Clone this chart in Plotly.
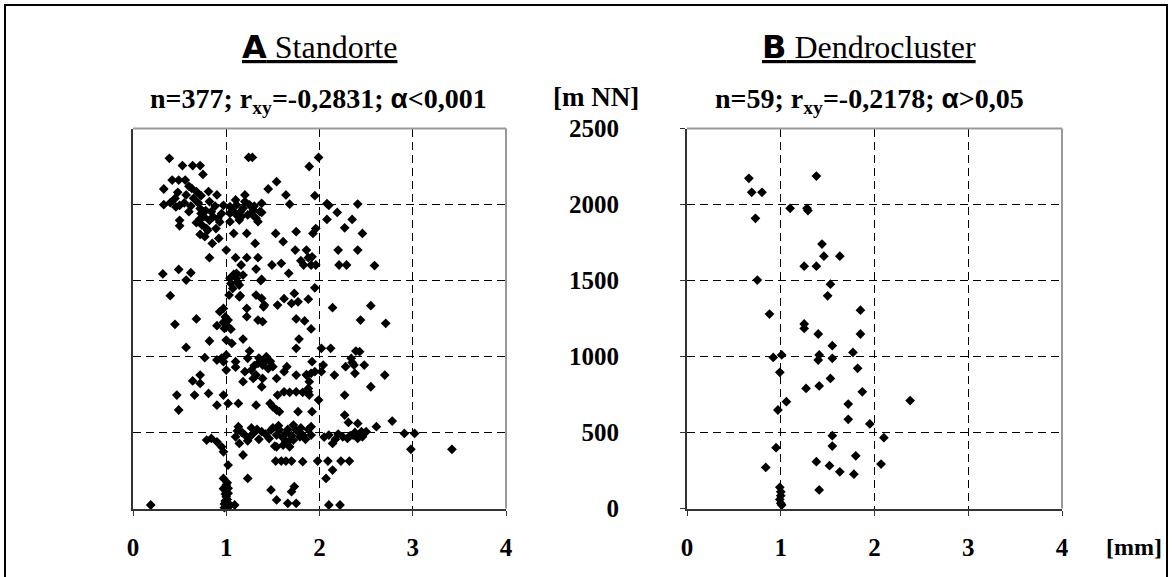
import plotly.graph_objects as go

# Panel A: all sites (ring width in mm, elevation in m NN)
standorte = [
    (0.39, 2304), (1.24, 2310), (1.28, 2310), (1.99, 2310), (1.89, 2250), (0.53, 2256), (0.64, 2256),
    (0.72, 2256), (0.75, 2198), (0.42, 2161), (0.49, 2161), (0.56, 2161), (0.33, 2102), (0.63, 2106),
    (1.54, 2150), (1.45, 2102), (1.64, 2063), (1.68, 2002), (1.95, 2058), (2.08, 2005), (2.10, 1995),
    (2.41, 2003), (2.19, 1948), (2.08, 1902), (2.35, 1902), (2.27, 1847), (2.46, 1810), (1.96, 1842),
    (1.93, 1810), (1.75, 1821), (1.53, 1810), (1.61, 1755), (1.74, 1700), (1.86, 1700), (1.92, 1656),
    (1.83, 1602), (1.91, 1602), (1.96, 1602), (2.20, 1700), (2.41, 1700), (2.21, 1602), (2.29, 1602),
    (2.59, 1598), (1.49, 1602), (1.59, 1613), (1.67, 1547), (1.34, 1650), (1.32, 1575), (1.38, 1507),
    (1.22, 1650), (1.10, 1650), (1.00, 1700), (0.82, 1650), (1.08, 1810), (1.22, 1810), (1.31, 1744),
    (0.32, 1543), (0.49, 1573), (0.62, 1551), (0.57, 1503), (0.40, 1400),
    (1.16, 1602), (1.11, 1547), (1.04, 1514), (1.11, 1514), (1.18, 1536), (1.14, 1470), (1.07, 1448),
    (1.03, 1404), (1.14, 1393), (1.32, 1404), (1.38, 1382), (1.41, 1338), (1.40, 1327), (1.55, 1338),
    (1.70, 1349), (1.77, 1360), (1.73, 1415), (1.88, 1377), (1.95, 1452), (2.14, 1321), (2.55, 1334),
    (0.97, 1316), (0.93, 1295), (1.22, 1316),
    (0.40, 2012), (0.33, 1999), (0.46, 1984), (0.50, 1995), (0.60, 1953), (0.57, 2063), (0.68, 2085),
    (0.73, 2058), (0.65, 2041), (0.81, 2085), (0.90, 2063), (0.82, 2019), (0.72, 1973), (0.73, 1940),
    (0.84, 1953), (0.72, 1907), (0.82, 1896), (0.91, 1907), (0.50, 1896), (0.50, 1860), (0.74, 1865),
    (0.79, 1842), (0.89, 1842), (0.72, 1803), (0.77, 1788), (0.85, 1744), (0.92, 1777), (0.93, 1885),
    (0.97, 1995), (1.04, 1986), (1.11, 1997), (1.20, 2063), (1.20, 2019), (1.18, 1975), (1.25, 1997),
    (1.29, 1964), (1.38, 2008), (1.36, 1953), (1.04, 1942), (1.11, 1931), (1.16, 1920), (1.23, 1931),
    (1.32, 1909), (1.04, 1887), (1.14, 1898), (1.34, 1887), (1.38, 1948),
    (0.45, 1212), (0.68, 1247), (0.90, 1203), (0.97, 1225), (1.00, 1207), (1.02, 1240), (0.98, 1185),
    (1.22, 1262), (1.34, 1240), (1.39, 1229), (1.75, 1247), (1.84, 1234), (1.91, 1181), (2.44, 1240),
    (2.71, 1218),
    (0.82, 1102), (1.00, 1108), (1.06, 1086), (1.18, 1115), (0.57, 1060), (0.77, 992), (0.90, 977),
    (0.97, 966), (1.00, 1010), (1.00, 911), (1.10, 966), (1.23, 988), (1.25, 1036), (1.34, 955),
    (1.43, 999), (1.47, 966), (1.50, 933), (1.39, 944), (1.27, 911), (1.32, 878), (1.39, 856),
    (1.54, 856), (1.65, 933), (1.75, 1054), (1.78, 1115), (1.75, 878), (1.86, 878), (1.91, 889),
    (1.89, 834), (1.88, 768), (1.92, 966), (2.02, 1054), (2.12, 1054), (2.04, 944), (2.02, 900),
    (2.16, 878),
    (2.28, 933), (2.34, 988), (2.39, 1036), (2.43, 1032), (2.37, 944), (2.48, 944), (2.38, 889),
    (2.70, 878), (2.55, 801), (2.27, 746),
    (1.18, 834), (1.29, 856), (1.38, 801), (0.64, 839), (0.72, 878), (0.72, 823), (0.47, 746),
    (0.66, 746), (0.81, 757), (0.49, 648), (0.90, 680), (0.97, 746), (1.02, 691), (1.13, 691),
    (1.32, 680), (1.47, 691), (1.50, 669), (1.54, 648), (1.57, 637),
    (1.55, 746), (1.62, 768), (1.68, 764), (1.75, 768), (1.82, 764), (1.88, 790), (1.89, 746),
    (1.77, 637), (1.92, 637), (1.99, 713), (2.27, 615), (2.31, 566), (2.41, 560), (2.61, 538),
    (2.78, 575), (2.91, 494), (3.02, 494), (2.98, 389), (3.42, 389),
    (0.79, 450), (0.84, 461), (0.90, 439), (0.95, 406), (0.97, 373),
    (1.13, 538), (1.10, 472), (1.14, 428), (1.20, 483), (1.29, 494), (1.38, 505), (1.48, 516),
    (1.54, 483), (1.57, 516), (1.64, 494), (1.72, 549), (1.75, 516), (1.79, 472), (1.72, 450),
    (1.64, 439), (1.54, 406), (1.61, 417), (1.68, 406), (1.82, 483), (1.91, 538), (1.91, 483),
    (1.18, 352), (1.53, 312), (1.59, 312), (1.64, 312), (1.70, 312), (1.82, 308), (1.98, 312),
    (2.09, 312), (2.10, 483), (2.14, 428),
    (2.25, 472), (2.30, 461), (2.36, 483), (2.41, 461), (2.46, 472), (2.50, 505), (2.45, 505),
    (2.23, 312), (2.32, 312), (2.14, 253), (2.07, 198),
    (1.02, 286), (0.97, 198), (1.23, 198), (1.00, 155), (1.00, 111), (1.00, 78), (1.00, 45),
    (1.00, 12), (1.04, 23), (1.09, 23), (1.02, 133), (0.19, 23), (1.48, 122), (1.73, 144),
    (1.70, 111), (1.54, 56), (1.66, 34), (1.75, 34), (2.10, 23), (2.22, 23),
    # overlapping sites inside the dense groups
    (0.98, 30), (1.01, 60), (0.99, 95), (1.02, 100), (0.97, 130), (1.01, 170), (0.99, 50),
    (1.03, 15), (0.98, 5), (1.00, 140),
    (1.17, 500), (1.25, 470), (1.33, 520), (1.42, 490), (1.46, 460), (1.50, 530), (1.60, 470),
    (1.66, 520), (1.70, 480), (1.78, 500), (1.85, 455), (1.88, 520), (1.23, 445), (1.35, 455),
    (1.52, 410), (1.12, 510), (1.27, 530), (1.56, 545), (1.69, 455), (1.80, 530),
    (2.05, 470), (2.20, 490), (2.33, 480), (2.38, 500), (2.44, 490), (2.17, 455),
    (0.45, 2040), (0.55, 2010), (0.62, 1990), (0.70, 2010), (0.78, 1960), (0.86, 1920),
    (0.95, 1940), (1.07, 1960), (1.15, 1950), (1.27, 1940), (0.68, 1880), (0.80, 1830),
    (0.60, 2120), (0.48, 2080), (1.10, 2030), (1.30, 1990), (0.76, 1920), (0.88, 1990),
    (1.30, 940), (1.40, 960), (1.45, 920), (1.20, 900), (1.35, 990), (1.47, 970), (1.62, 900),
    (1.86, 880), (1.95, 900), (2.35, 960), (1.10, 930), (0.95, 990),
    (1.05, 1480), (1.12, 1490), (1.08, 1540), (1.00, 1230), (1.05, 1180), (1.15, 1400),
    (0.99, 1260), (1.37, 1500), (1.62, 1380), (1.80, 1630), (1.88, 1650),
]

# Panel B: dendro clusters
dendrocluster = [
    (0.66, 2172), (0.69, 2080), (0.80, 2080), (1.38, 2187), (1.10, 1975), (1.28, 1975),
    (1.29, 1960), (0.73, 1909), (1.44, 1740), (1.46, 1660), (1.63, 1660), (1.25, 1594),
    (1.38, 1594), (0.75, 1503), (1.53, 1476), (1.50, 1399), (0.88, 1279), (1.85, 1305),
    (1.25, 1214), (1.25, 1185), (1.40, 1148), (1.85, 1148), (1.55, 1071), (1.77, 1027),
    (0.92, 994), (1.01, 1010), (1.41, 1010), (1.40, 977), (1.55, 988), (0.99, 896),
    (1.82, 922), (1.53, 856), (1.27, 790), (1.41, 806), (1.87, 768), (1.06, 703),
    (0.97, 648), (1.72, 687), (1.72, 587), (1.95, 556), (2.38, 710), (1.55, 479),
    (1.55, 411), (2.10, 466), (0.95, 400), (1.80, 347), (1.38, 308), (1.52, 282),
    (1.63, 241), (1.78, 226), (2.07, 292), (0.84, 270), (1.41, 122), (0.99, 139),
    (1.00, 84), (1.00, 34), (1.01, 23), (0.99, 60), (1.00, 110),
]

x_ticks = [0, 1, 2, 3, 4]
y_ticks = [0, 500, 1000, 1500, 2000, 2500]

W, H = 1172, 577
SERIF = "Liberation Serif, Times New Roman, serif"

# plot areas in pixels (left, right, top, bottom)
area_a = (133, 506, 128.5, 508.5)
area_b = (687, 1062, 128.5, 508.5)


def xdom(a):
    return [a[0] / W, a[1] / W]


def ydom(a):
    return [1 - a[3] / H, 1 - a[2] / H]


fig = go.Figure()
marker = dict(symbol="diamond", size=7.5, color="black", line=dict(width=0))
fig.add_trace(go.Scatter(x=[p[0] for p in standorte], y=[p[1] for p in standorte],
                         mode="markers", marker=marker, xaxis="x", yaxis="y",
                         showlegend=False, cliponaxis=False))
fig.add_trace(go.Scatter(x=[p[0] for p in dendrocluster], y=[p[1] for p in dendrocluster],
                         mode="markers", marker=marker, xaxis="x2", yaxis="y2",
                         showlegend=False, cliponaxis=False))

grid = dict(showgrid=True, gridcolor="black", gridwidth=1, griddash="8px,5px")
tickfont = dict(family=SERIF, size=25, color="black", weight="bold")

xcommon = dict(range=[0, 4], tickvals=x_ticks, ticks="outside", ticklen=5, tickwidth=1,
               tickcolor="#333", showline=True, linecolor="#333", linewidth=2,
               tickfont=tickfont, ticklabelstandoff=10, zeroline=False, fixedrange=True,
               automargin=False, **grid)
ycommon = dict(range=[0, 2500], tickvals=y_ticks, showline=True, linecolor="#333", linewidth=2,
               zeroline=False, fixedrange=True, automargin=False, **grid)

fig.update_layout(
    width=W, height=H, autosize=False,
    margin=dict(l=0, r=0, t=0, b=0, pad=0, autoexpand=False),
    paper_bgcolor="white", plot_bgcolor="white",
    xaxis=dict(domain=xdom(area_a), anchor="y", **xcommon),
    yaxis=dict(domain=ydom(area_a), anchor="x", showticklabels=False, ticks="", **ycommon),
    xaxis2=dict(domain=xdom(area_b), anchor="y2", **xcommon),
    yaxis2=dict(domain=ydom(area_b), anchor="x2", ticks="outside", ticklen=5, tickcolor="#333",
                tickfont=tickfont, ticklabelstandoff=56, **ycommon),
)

# grey top/right frame of each plot area
for xr, yr in (("x domain", "y domain"), ("x2 domain", "y2 domain")):
    fig.add_shape(type="line", xref=xr, yref=yr, x0=0, x1=1, y0=1, y1=1,
                  line=dict(color="#999", width=2), layer="above")
    fig.add_shape(type="line", xref=xr, yref=yr, x0=1, x1=1, y0=0, y1=1,
                  line=dict(color="#999", width=2), layer="above")

# outer frame
fig.add_shape(type="rect", xref="paper", yref="paper", x0=5 / W, x1=1167 / W, y0=-0.1, y1=1 - 5 / H,
              line=dict(color="black", width=2), fillcolor="rgba(0,0,0,0)", layer="above")

LETTER = "font-family:DejaVu Sans, Liberation Sans, sans-serif;font-weight:900"
ALPHA = "font-family:Liberation Sans, Arial, sans-serif;font-weight:bold"


def label(text, xpx, ypx, size, bold=False, underline=False):
    fig.add_annotation(
        text=text, xref="paper", yref="paper", x=xpx / W, y=1 - ypx / H,
        xanchor="center", yanchor="middle", showarrow=False,
        font=dict(family=SERIF, size=size, color="black", weight="bold" if bold else "normal",
                  lineposition="under" if underline else "none"),
    )


label(f"<span style='{LETTER}'>A</span> Standorte", 319, 47, 32, underline=True)
label(f"<span style='{LETTER}'>B</span> Dendrocluster", 869, 47, 32, underline=True)
label(f"n=377; r<sub>xy</sub>=-0,2831; <span style='{ALPHA}'>α</span>&lt;0,001", 318, 101, 28, bold=True)
label(f"n=59; r<sub>xy</sub>=-0,2178; <span style='{ALPHA}'>α</span>&gt;0,05", 869, 101, 28, bold=True)
label("[m NN]", 596, 97, 27, bold=True)
label("[mm]", 1134, 547, 24, bold=True)

fig.write_html("out.html")
